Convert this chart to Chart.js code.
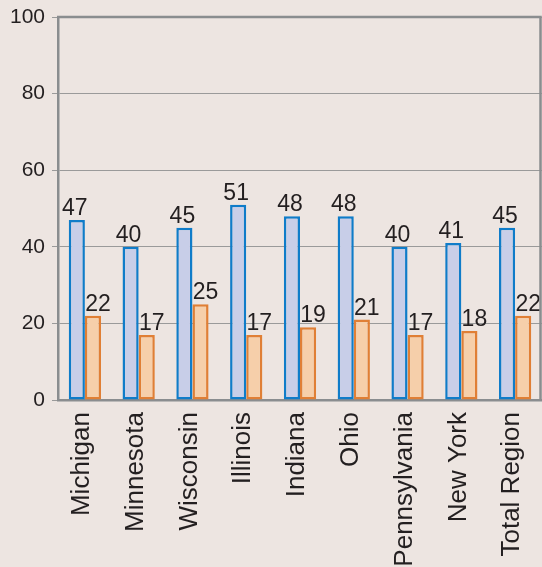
<!DOCTYPE html>
<html><head><meta charset="utf-8">
<script src="https://cdn.jsdelivr.net/npm/chart.js@4.4.1/dist/chart.umd.min.js"></script>
<style>html,body{margin:0;padding:0;background:#ede5e1;overflow:hidden}#wrap{width:542px;height:567px}</style>
</head><body><div id="wrap"><canvas id="c" width="542" height="567"></canvas></div>
<script>
const categories = ["Michigan","Minnesota","Wisconsin","Illinois","Indiana","Ohio","Pennsylvania","New York","Total Region"];
const seriesBlue = [47,40,45,51,48,48,40,41,45];
const seriesOrange = [22,17,25,17,19,21,17,18,22];
const yMin = 0, yMax = 100, yStep = 20;

const FONT = "'Liberation Sans', Arial, Helvetica, sans-serif";
const TEXT = '#231f20';
const AXIS = '#8a8d8f';

const bgPlugin = {
  id: 'bg',
  beforeDraw(chart) {
    const ctx = chart.ctx;
    ctx.save();
    ctx.fillStyle = '#ede5e1';
    ctx.fillRect(0, 0, chart.width, chart.height);
    ctx.restore();
  },
  afterDraw(chart) {
    const a = chart.chartArea, ctx = chart.ctx;
    ctx.save();
    ctx.strokeStyle = AXIS;
    ctx.lineWidth = 2.5;
    ctx.beginPath();
    ctx.moveTo(a.left - 1, a.top);
    ctx.lineTo(a.right - 1.5, a.top);
    ctx.lineTo(a.right - 1.5, a.bottom);
    ctx.stroke();
    ctx.restore();
  }
};

const labelPlugin = {
  id: 'vals',
  afterDatasetsDraw(chart) {
    const ctx = chart.ctx;
    ctx.save();
    ctx.font = '23px ' + FONT;
    ctx.fillStyle = TEXT;
    ctx.textAlign = 'center';
    ctx.textBaseline = 'alphabetic';
    chart.data.datasets.forEach((ds, i) => {
      const meta = chart.getDatasetMeta(i);
      const off = i === 0 ? -2 : 5;
      meta.data.forEach((el, j) => {
        ctx.fillText(String(ds.data[j]), el.x + off, el.y - 5);
      });
    });
    ctx.restore();
  }
};

new Chart(document.getElementById('c'), {
  type: 'bar',
  data: {
    labels: categories,
    datasets: [
      { data: seriesBlue, backgroundColor: '#c8cee8', borderColor: '#0f7cc9', borderWidth: 2.5, borderSkipped: false, categoryPercentage: 0.6, barPercentage: 1.0 },
      { data: seriesOrange, backgroundColor: '#f6cfaa', borderColor: '#e07f35', borderWidth: 2.5, borderSkipped: false, categoryPercentage: 0.6, barPercentage: 1.0 }
    ]
  },
  options: {
    responsive: false,
    animation: false,
    devicePixelRatio: 1,
    layout: { padding: { top: 17, right: 0, left: 0, bottom: 0 } },
    plugins: { legend: { display: false }, tooltip: { enabled: false } },
    scales: {
      y: {
        min: yMin, max: yMax,
        ticks: { stepSize: yStep, font: { size: 21, family: FONT }, color: TEXT, padding: 7 },
        grid: { color: '#9a9a9a', lineWidth: 1, tickLength: 6, drawTicks: true },
        border: { display: true, color: AXIS, width: 2.5 },
        afterFit(s) { s.width = 58; s.paddingTop = 0; s.paddingBottom = 0; }
      },
      x: {
        ticks: { minRotation: 90, maxRotation: 90, autoSkip: false, font: { size: 26, family: FONT }, color: TEXT, padding: 12, labelOffset: -3 },
        grid: { display: false, drawTicks: false },
        border: { display: true, color: AXIS, width: 2.5 },
        afterFit(s) { s.height = 167; s.paddingLeft = 0; s.paddingRight = 0; }
      }
    }
  },
  plugins: [bgPlugin, labelPlugin]
});
</script>
</body></html>
